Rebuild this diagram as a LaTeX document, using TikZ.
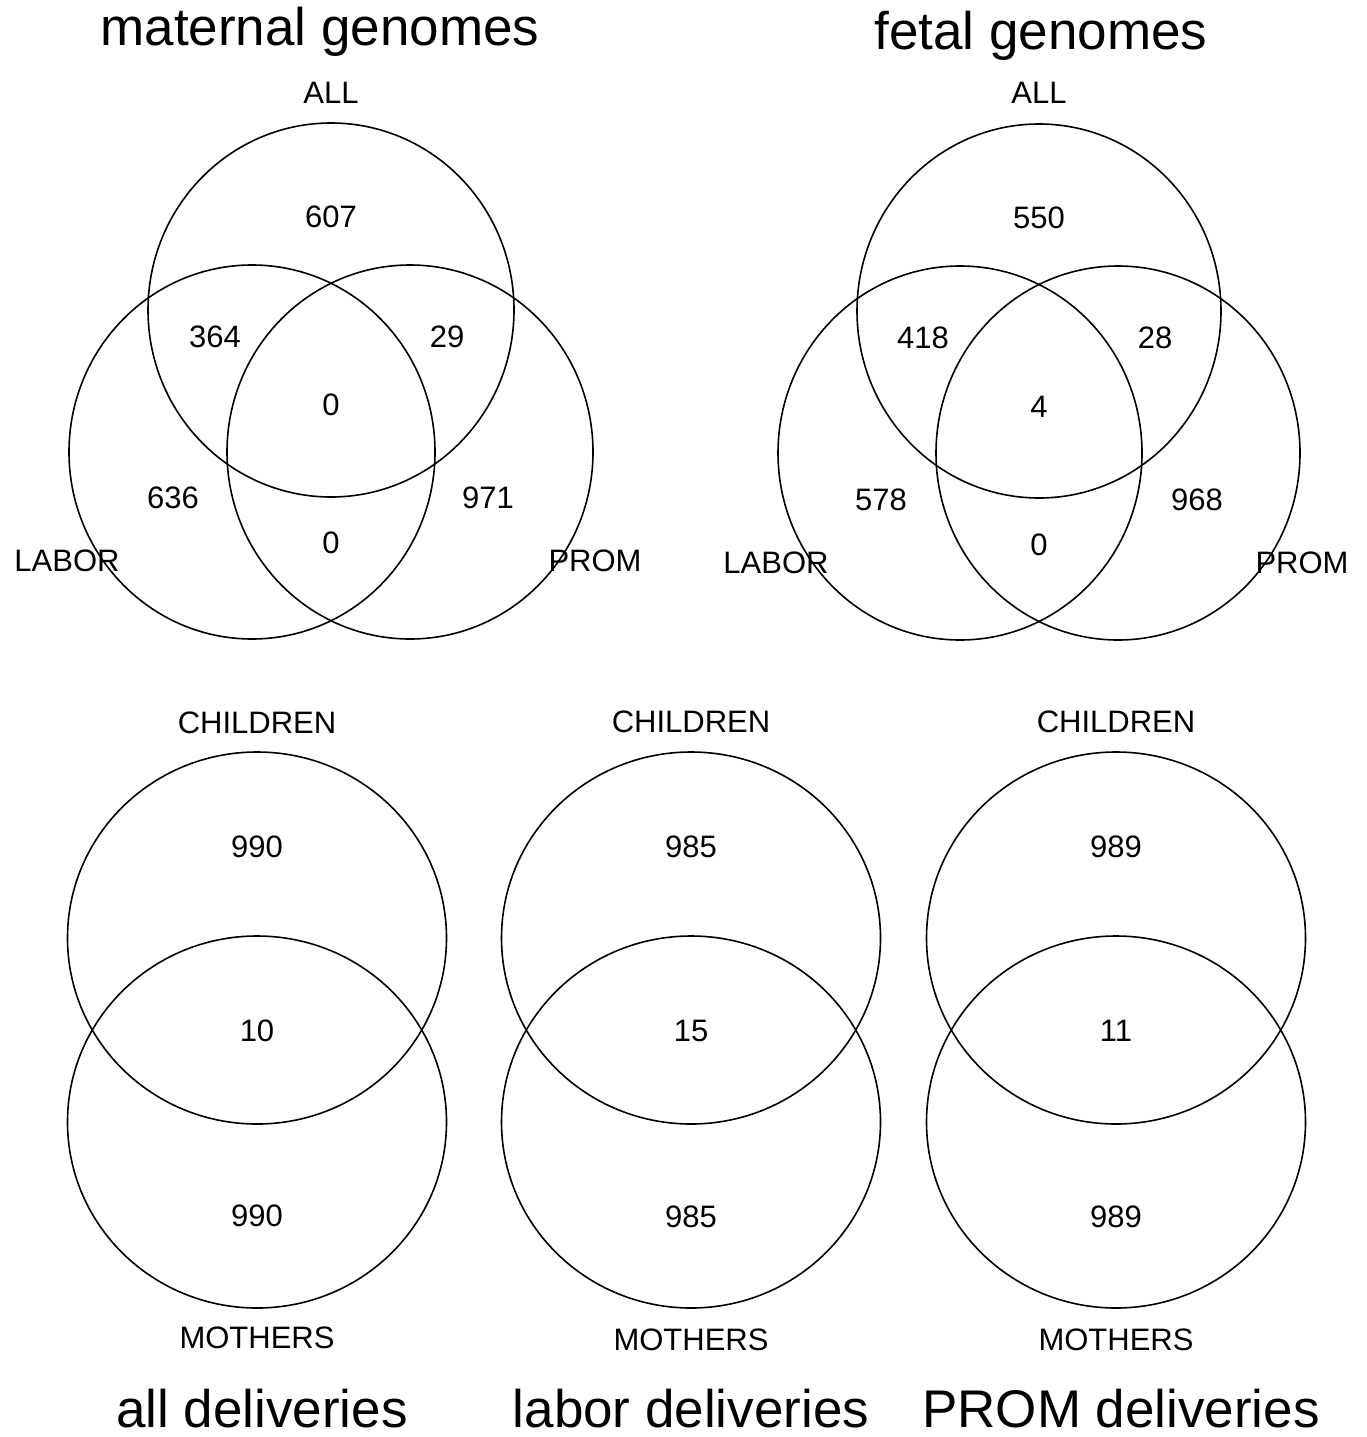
\documentclass[tikz,border=0pt]{standalone}
\usepackage{fontspec}
\setmainfont{Liberation Sans}
\usetikzlibrary{shapes.geometric}
\begin{document}
\begin{tikzpicture}[x=1pt,y=-1pt,
  vc/.style={ellipse,draw=black,line width=1.6pt,inner sep=0pt},
  top3/.style={vc,minimum width=366pt,minimum height=374pt},
  bot2/.style={vc,minimum width=379pt,minimum height=372pt},
  lab/.style={inner sep=0pt,font=\fontsize{31}{31}\selectfont},
  ttl/.style={inner sep=0pt,anchor=base,font=\fontsize{53}{53}\selectfont}]
\useasboundingbox[fill=white] (0,0) rectangle (1367,1437);
% maternal
\node[top3] (mA) at (331,310) {};
\node[top3] (mL) at (252,452) {};
\node[top3] (mP) at (410,452) {};
\node[ttl] (mt) at (320,46) {maternal genomes};
\node[lab] (mAl) at (331,93) {ALL};
\node[lab] (mLl) at (67,561) {LABOR};
\node[lab] (mPl) at (595,561) {PROM};
\node[lab] (m1) at (331,217) {607};
\node[lab] (m2) at (215,337) {364};
\node[lab] (m3) at (447,337) {29};
\node[lab] (m4) at (331,405) {0};
\node[lab] (m5) at (173,498) {636};
\node[lab] (m6) at (488,498) {971};
\node[lab] (m7) at (331,543) {0};
% fetal
\node[top3,minimum width=364pt] (fA) at (1039,311) {};
\node[top3,minimum width=364pt] (fL) at (960,453) {};
\node[top3,minimum width=364pt] (fP) at (1118,453) {};
\node[ttl] (ft) at (1041,49) {fetal genomes};
\node[lab] (fAl) at (1039,93) {ALL};
\node[lab] (fLl) at (776,563) {LABOR};
\node[lab] (fPl) at (1302,563) {PROM};
\node[lab] (f1) at (1039,218) {550};
\node[lab] (f2) at (923,338) {418};
\node[lab] (f3) at (1155,338) {28};
\node[lab] (f4) at (1039,407) {4};
\node[lab] (f5) at (881,500) {578};
\node[lab] (f6) at (1197,500) {968};
\node[lab] (f7) at (1039,545) {0};
% bottom row
\node[bot2] (aC) at (257,938) {};
\node[bot2] (aM) at (257,1122) {};
\node[lab] (aCl) at (257,723) {CHILDREN};
\node[lab] (a1) at (257,847) {990};
\node[lab] (a2) at (257,1031) {10};
\node[lab] (a3) at (257,1216) {990};
\node[lab] (aMl) at (257,1338) {MOTHERS};
\node[ttl] (at) at (262,1427) {all deliveries};
\node[bot2] (bC) at (691,938) {};
\node[bot2] (bM) at (691,1122) {};
\node[lab] (bCl) at (691,722) {CHILDREN};
\node[lab] (b1) at (691,847) {985};
\node[lab] (b2) at (691,1031) {15};
\node[lab] (b3) at (691,1217) {985};
\node[lab] (bMl) at (691,1340) {MOTHERS};
\node[ttl] (bt) at (691,1427) {labor deliveries};
\node[bot2] (cC) at (1116,938) {};
\node[bot2] (cM) at (1116,1122) {};
\node[lab] (cCl) at (1116,722) {CHILDREN};
\node[lab] (c1) at (1116,847) {989};
\node[lab] (c2) at (1116,1031) {11};
\node[lab] (c3) at (1116,1217) {989};
\node[lab] (cMl) at (1116,1340) {MOTHERS};
\node[ttl] (ct) at (1121,1427) {PROM deliveries};
\end{tikzpicture}
\end{document}
